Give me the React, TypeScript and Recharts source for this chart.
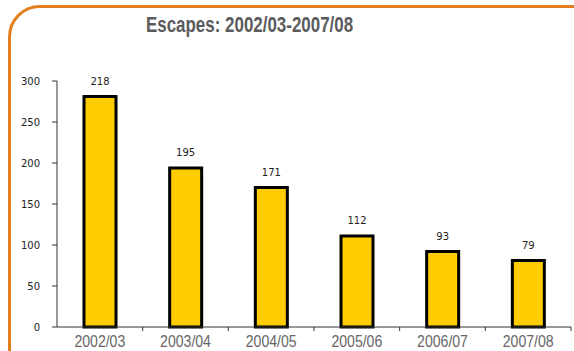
import { BarChart, Bar, XAxis, YAxis, LabelList } from 'recharts';

const years = ['2002/03', '2003/04', '2004/05', '2005/06', '2006/07', '2007/08'];
const escapes = [281, 194, 170, 111, 92, 81];
const labels = ['218', '195', '171', '112', '93', '79'];
const yTicks = [0, 50, 100, 150, 200, 250, 300];

const data = years.map((year, i) => ({ year, escapes: escapes[i], label: labels[i] }));

const sans = "'Liberation Sans', Arial, sans-serif";

function YearTick(props: any) {
  const { x, y, payload, width, visibleTicksCount } = props;
  const half = width / visibleTicksCount / 2;
  return (
    <g>
      <line x1={x + half} y1={y} x2={x + half} y2={y + 4} stroke="#333" strokeWidth={1} />
      <text transform={`translate(${x},${y + 14}) scale(0.88,1)`} textAnchor="middle" dominantBaseline="central"
        fill="#666" fontFamily={sans} fontSize={16}>
        {payload.value}
      </text>
    </g>
  );
}

export default function App() {
  return (
    <div style={{ position: 'absolute', left: 0, top: 0, width: 574, height: 351, overflow: 'hidden', background: '#fff' }}>
      <div style={{
        position: 'absolute', left: 8, top: 5, width: 600, height: 380,
        border: '3px solid #E2801F', borderRadius: 32, boxSizing: 'border-box',
      }} />
      <div style={{ position: 'absolute', left: 0, top: 12, width: 500, textAlign: 'center' }}>
        <span style={{
          display: 'inline-block', transform: 'scaleX(0.77)',
          fontFamily: sans, fontWeight: 'bold', fontSize: 22, color: '#5b5b5d',
        }}>
          Escapes: 2002/03-2007/08
        </span>
      </div>
      <BarChart width={574} height={351} data={data} style={{ position: 'absolute', left: 0, top: 0 }}
        margin={{ top: 81, right: 3, bottom: 0, left: 0 }}>
        <YAxis domain={[0, 300]} ticks={yTicks} width={57} tickSize={5} tickMargin={12}
          axisLine={{ stroke: '#333' }} tickLine={{ stroke: '#333' }}
          tick={{ fill: '#222', fontSize: 10, fontFamily: 'DejaVu Sans' }} />
        <XAxis dataKey="year" height={24} tickSize={0} tickMargin={0} tickLine={false}
          axisLine={{ stroke: '#333' }} tick={<YearTick />} interval={0} />
        <Bar dataKey="escapes" fill="#FFCC00" stroke="#000" strokeWidth={3} barSize={32} isAnimationActive={false}>
          <LabelList dataKey="label" position="top" offset={12} fill="#222" fontSize={10} fontFamily="DejaVu Sans" />
        </Bar>
      </BarChart>
    </div>
  );
}
